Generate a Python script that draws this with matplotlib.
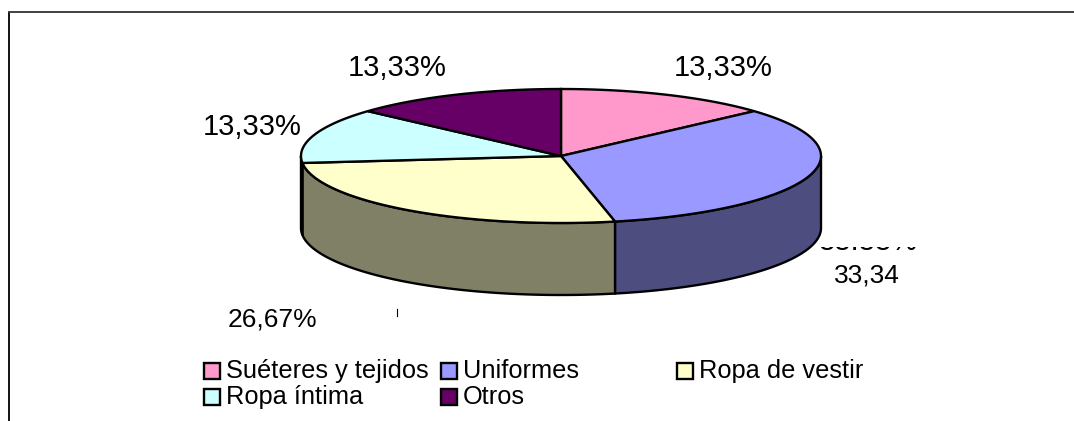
import numpy as np
import matplotlib
matplotlib.use("Agg")
import matplotlib.pyplot as plt
from matplotlib.patches import Polygon, Rectangle

plt.rcParams['font.family'] = ['Liberation Sans', 'DejaVu Sans']

categories = ["Suéteres y tejidos", "Uniformes", "Ropa de vestir", "Ropa íntima", "Otros"]
values = [13.33, 33.34, 26.67, 13.33, 13.33]
labels = ["13,33%", "33,33%", "26,67%", "13,33%", "13,33%"]
colors = ["#FF99CC", "#9999FF", "#FFFFCC", "#CCFFFF", "#660066"]
side_colors = ["#804D66", "#4D4D80", "#808066", "#668080", "#330033"]

W, H = 1074, 421
cx, cy, rx, ry, depth = 561, 156, 260, 67, 72

fig = plt.figure(figsize=(W / 100, H / 100), dpi=100)
ax = fig.add_axes([0, 0, 1, 1])
ax.set_xlim(0, W)
ax.set_ylim(H, 0)
ax.axis("off")


def ell(a):
    # a in degrees, clockwise from the top
    r = np.radians(a)
    return cx + rx * np.sin(r), cy - ry * np.cos(r)


# frame, only top and left are visible
ax.plot([8.5, 8.5], [H, 12], color="black", lw=1.3, solid_capstyle="butt")
ax.plot([8, W], [12, 12], color="#333333", lw=1.3, solid_capstyle="butt")

edges = np.cumsum([0] + values) / sum(values) * 360

# sides, only the front half of the ellipse shows
for i in range(len(values)):
    a0, a1 = max(edges[i], 90), min(edges[i + 1], 270)
    if a1 <= a0:
        continue
    t = np.linspace(a0, a1, 80)
    x, y = ell(t)
    pts = np.r_[np.c_[x, y], np.c_[x[::-1], y[::-1] + depth]]
    ax.add_patch(Polygon(pts, closed=True, fc=side_colors[i], ec="black", lw=1.7, zorder=2))

# top
for i in range(len(values)):
    t = np.linspace(edges[i], edges[i + 1], 80)
    x, y = ell(t)
    pts = np.r_[[[cx, cy]], np.c_[x, y]]
    ax.add_patch(Polygon(pts, closed=True, fc=colors[i], ec="black", lw=1.7, zorder=3))

# percent labels
fs = 21
ax.text(723, 68, labels[0], ha="center", va="center", fontsize=fs, color="black")
ax.text(397, 68, labels[4], ha="center", va="center", fontsize=fs, color="black")
ax.text(252, 127, labels[3], ha="center", va="center", fontsize=fs, color="black")
ax.text(272, 320, labels[2], ha="center", va="center", fontsize=19, color="black")

# the 33,33% label is cut by a text box, only its lower edge shows
ax.text(868, 250, labels[1], ha="center", va="baseline", fontsize=fs, color="black", zorder=1)
ax.add_patch(Rectangle((800, 226), 130, 21, fc="white", ec="none", zorder=1.5))
ax.add_patch(Rectangle((800, 249.5), 130, 9, fc="white", ec="none", zorder=1.5))
ax.text(867, 275, "33,34", ha="center", va="center", fontsize=19, color="black")
ax.plot([397, 397], [309, 316], color="black", lw=0.8)

# legend
legend_pos = [(204, 371), (441, 371), (677, 371), (204, 397), (441, 397)]
for name, col, (lx, ly) in zip(categories, colors, legend_pos):
    ax.add_patch(Rectangle((lx, ly - 8), 16, 16, fc=col, ec="black", lw=1.7))
    ax.text(lx + 22, ly, name, ha="left", va="center", fontsize=18.3, color="black")

fig.savefig("out.png", dpi=100)
